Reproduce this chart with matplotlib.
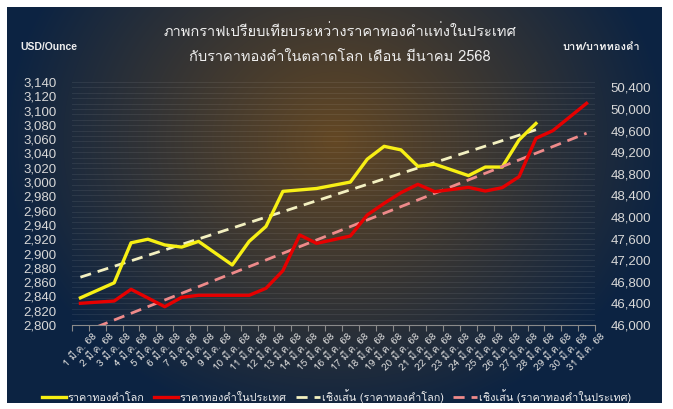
import numpy as np
import matplotlib
matplotlib.use("Agg")
import matplotlib.pyplot as plt
from matplotlib import font_manager, ft2font
from matplotlib.ticker import MultipleLocator, FuncFormatter, FixedLocator

# find an installed font that has Thai glyphs
thai_font = None
for f in font_manager.fontManager.ttflist:
    try:
        if 0x0E01 in ft2font.FT2Font(f.fname).get_charmap():
            thai_font = f.name
            break
    except Exception:
        pass
fams = ([thai_font] if thai_font else []) + ["Liberation Sans", "DejaVu Sans"]
plt.rcParams["font.family"] = fams

# data
day_labels = [f"{d} มี.ค. 68" for d in range(1, 32)]

world_days = [1, 3, 4, 5, 6, 7, 8, 10, 11, 12, 13, 14, 15, 17, 18, 19, 20, 21, 22,
              24, 25, 26, 27, 28]
world_price = [2838, 2859, 2915, 2920, 2912, 2909, 2917, 2884, 2917, 2938, 2987,
               2989, 2991, 3000, 3032, 3050, 3045, 3022, 3025, 3009, 3021, 3021,
               3059, 3082]

thai_days = [1, 3, 4, 6, 7, 8, 10, 11, 12, 13, 14, 15, 17, 18, 19, 20, 21, 22,
             24, 25, 26, 27, 28, 29, 31]
thai_price = [46402, 46444, 46661, 46339, 46513, 46550, 46550, 46550, 46680, 47006,
              47667, 47512, 47648, 48037, 48253, 48451, 48605, 48469, 48549, 48481,
              48543, 48747, 49457, 49599, 50105]

title = "ภาพกราฟเปรียบเทียบระหว่างราคาทองคำแท่งในประเทศ\nกับราคาทองคำในตลาดโลก เดือน มีนาคม 2568"
legend_labels = ["ราคาทองคำโลก", "ราคาทองคำในประเทศ",
                 "เชิงเส้น (ราคาทองคำโลก)", "เชิงเส้น (ราคาทองคำในประเทศ)"]

W, H = 673, 409
fig = plt.figure(figsize=(W / 100, H / 100), dpi=100, facecolor="white")

# dark panel with warm glow in the middle
px0, py0, px1, py1 = 7, 7, 662, 403
bg = fig.add_axes([px0 / W, 1 - py1 / H, (px1 - px0) / W, (py1 - py0) / H], zorder=-5)
gx, gy = np.meshgrid(np.arange(px0, px1), np.arange(py0, py1))
r = np.sqrt(((gx - 335) / 330.0) ** 2 + ((gy - 140) / 290.0) ** 2)
t = np.clip(r, 0, 1) ** 1.0
c_in = np.array([0.39, 0.28, 0.14])
c_out = np.array([0.05, 0.14, 0.26])
img = c_in[None, None, :] * (1 - t[..., None]) + c_out[None, None, :] * t[..., None]
bg.imshow(img, aspect="auto", interpolation="bilinear")
bg.axis("off")

txt = "#d8d8d8"
ax = fig.add_axes([72 / W, 1 - 325 / H, 523 / W, 243 / H])
ax.patch.set_alpha(0)
ax2 = ax.twinx()
ax2.patch.set_alpha(0)

x_w = np.array(world_days) - 1
x_t = np.array(thai_days) - 1

# linear trend lines
kw, bw = np.polyfit(x_w, world_price, 1)
kt, bt = np.polyfit(x_t, thai_price, 1)
xw_line = np.array([0, x_w.max()])
xt_line = np.array([0, x_t.max()])

l3, = ax.plot(xw_line, kw * xw_line + bw, color="#f3f0c0", lw=2, ls=(0, (4, 2.5)), zorder=2)
l1, = ax.plot(x_w, world_price, color="#f7ef12", lw=2.4, zorder=3)
l4, = ax2.plot(xt_line, kt * xt_line + bt, color="#ee8a8a", lw=2, ls=(0, (4, 2.5)), zorder=2)
l2, = ax2.plot(x_t, thai_price, color="#e60000", lw=2.4, zorder=3)

ax.set_xlim(-0.5, 30.5)
ax.set_ylim(2800, 3140)
ax2.set_ylim(46000, 50500)
ax.yaxis.set_major_locator(MultipleLocator(20))
ax2.yaxis.set_major_locator(FixedLocator(np.arange(46000, 50401, 400)))
ax2.yaxis.set_minor_locator(MultipleLocator(100))
ax2.grid(which="both", axis="y", color="white", alpha=0.07, lw=0.8)
ax2.set_axisbelow(True)

fmt = FuncFormatter(lambda v, p: f"{v:,.0f}")
ax.yaxis.set_major_formatter(fmt)
ax2.yaxis.set_major_formatter(fmt)

ax.xaxis.set_major_locator(FixedLocator(np.arange(-0.5, 31, 1)))
ax.xaxis.set_minor_locator(FixedLocator(np.arange(31)))
ax.xaxis.set_major_formatter(plt.NullFormatter())
ax.set_xticklabels(day_labels, minor=True, rotation=45, ha="center", fontsize=7.3, color=txt)
ax.tick_params(axis="x", which="major", length=4, color="#8a8a8a", direction="out")
ax.tick_params(axis="x", which="minor", length=0, pad=5)

for a in (ax, ax2):
    for s in a.spines.values():
        s.set_visible(False)
    a.tick_params(axis="y", which="both", length=0, colors=txt, labelsize=9.5, pad=11)
ax.spines["bottom"].set_visible(True)
ax.spines["bottom"].set_color("#8a8a8a")
for lab in ax.get_yticklabels() + ax2.get_yticklabels():
    lab.set_family("Liberation Sans")

fig.text(340 / W, 1 - 44 / H, title, ha="center", va="center", color="#eeeeee",
         fontsize=10.5, linespacing=1.95)
fig.text(20 / W, 1 - 47 / H, "USD/Ounce", ha="left", va="center", color="#eeeeee",
         fontsize=7.5, fontweight="bold", family="Liberation Sans")
fig.text(640 / W, 1 - 47 / H, "บาท/บาททองคำ", ha="right", va="center", color="#eeeeee",
         fontsize=8, fontweight="bold")

fig.legend([l1, l2, l3, l4], legend_labels, loc="center left",
           bbox_to_anchor=(42 / W, 1 - 396 / H), ncol=4, frameon=False,
           fontsize=7.8, labelcolor="#eeeeee", handlelength=2.2, handletextpad=0.15,
           columnspacing=0.9, borderaxespad=0, borderpad=0)

fig.savefig("out.png", dpi=100, facecolor="white")
